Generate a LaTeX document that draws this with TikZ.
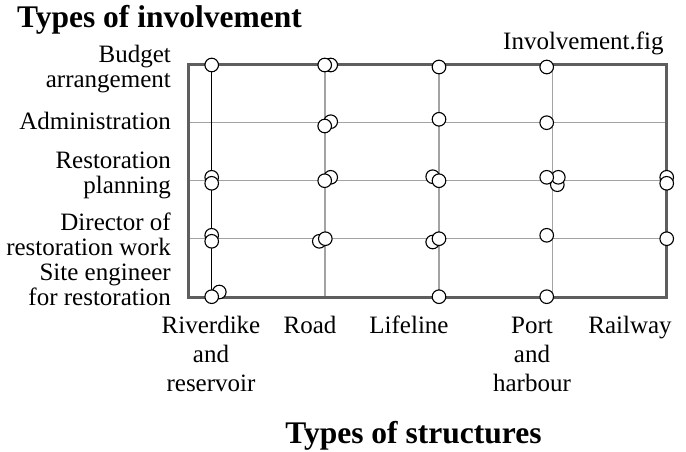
\documentclass[tikz,border=0pt]{standalone}
\usepackage{fontspec}
\setmainfont{Liberation Serif}
\usepackage{xcolor}
\definecolor{FrameGray}{HTML}{5E5E5E}
\definecolor{GridGray}{HTML}{A3A3A3}

\begin{document}
\begin{tikzpicture}[
    x=1pt, y=-1pt,
    dot/.style={circle, draw=black, fill=white, line width=1.1pt, minimum size=13.6pt, inner sep=0pt},
    gridline/.style={GridGray, line width=1.3pt},
    frameline/.style={FrameGray, line width=3pt},
    rowlabel/.style={anchor=base east, align=right, inner sep=0pt, font=\fontsize{25}{25.5}\selectfont},
    collabel/.style={anchor=base, align=center, inner sep=0pt, font=\fontsize{25}{29}\selectfont},
    heading/.style={anchor=base west, inner sep=0pt, font=\fontsize{31.5}{34}\selectfont\bfseries}
]
\useasboundingbox (0,0) rectangle (686,452);

% Frame corners
\coordinate (nw) at (188,65);
\coordinate (se) at (666,297);

% Grid
\foreach \y in {122.7,180.7,238.7}
  \draw[gridline] (188,\y) -- (666,\y);
\foreach \x in {325,439,552.3}
  \draw[gridline] (\x,65) -- (\x,297);
\draw[black, line width=1pt] (211.7,65) -- (211.7,297);
\draw[frameline] (nw) rectangle (se);

% Titles
\node[heading] (ytitle) at (17,28) {Types of involvement};
\node[heading, anchor=base] (xtitle) at (413.5,443) {Types of structures};
\node[anchor=base west, inner sep=0pt, font=\fontsize{25}{29}\selectfont] (figname) at (503,50) {Involvement.fig};

% Types of involvement (base = last line)
\node[rowlabel] (budget) at (171,87.8) {Budget\\arrangement};
\node[rowlabel] (admin) at (171,129.3) {Administration};
\node[rowlabel] (planning) at (171,193.5) {Restoration\\planning};
\node[rowlabel] (director) at (171,255.5) {Director of\\restoration work};
\node[rowlabel] (site) at (171,305.5) {Site engineer\\for restoration};

% Types of structures
\node[collabel] (riverdike) at (211,391) {Riverdike\\and\\reservoir};
\node[collabel] (road) at (310,333) {Road};
\node[collabel] (lifeline) at (409,333) {Lifeline};
\node[collabel] (port) at (532,391.5) {Port\\and\\harbour};
\node[collabel] (railway) at (630,333) {Railway};

% Riverdike
\node[dot] (rivA) at (211.7,65) {};
\node[dot] (rivB) at (211.7,177.3) {};
\node[dot] (rivC) at (211.7,183.3) {};
\node[dot] (rivD) at (211.7,235.3) {};
\node[dot] (rivE) at (211.7,241.3) {};
\node[dot] (rivF) at (219.3,292) {};
\node[dot] (rivG) at (211.7,296.7) {};

% Road
\node[dot] (roadA) at (330.7,65) {};
\node[dot] (roadB) at (324.7,65) {};
\node[dot] (roadC) at (330.7,121.7) {};
\node[dot] (roadD) at (324.7,126) {};
\node[dot] (roadE) at (330.7,177.3) {};
\node[dot] (roadF) at (324.7,180.7) {};
\node[dot] (roadG) at (319.3,241.3) {};
\node[dot] (roadH) at (325.3,238.7) {};

% Lifeline
\node[dot] (lifeA) at (439,67) {};
\node[dot] (lifeB) at (439,119.3) {};
\node[dot] (lifeC) at (432.7,176.7) {};
\node[dot] (lifeD) at (439,180.7) {};
\node[dot] (lifeE) at (432.7,242) {};
\node[dot] (lifeF) at (439,238.7) {};
\node[dot] (lifeG) at (439,296.7) {};

% Port and harbour
\node[dot] (portA) at (546.7,67) {};
\node[dot] (portB) at (546.7,122.7) {};
\node[dot] (portE) at (557.3,184.7) {};
\node[dot] (portD) at (558.3,177.3) {};
\node[dot] (portC) at (546.7,177.3) {};
\node[dot] (portF) at (546.7,235.3) {};
\node[dot] (portG) at (546.7,296.7) {};

% Railway
\node[dot] (railA) at (666.7,177.3) {};
\node[dot] (railB) at (666.7,183.3) {};
\node[dot] (railC) at (666.7,238.7) {};

\end{tikzpicture}
\end{document}
